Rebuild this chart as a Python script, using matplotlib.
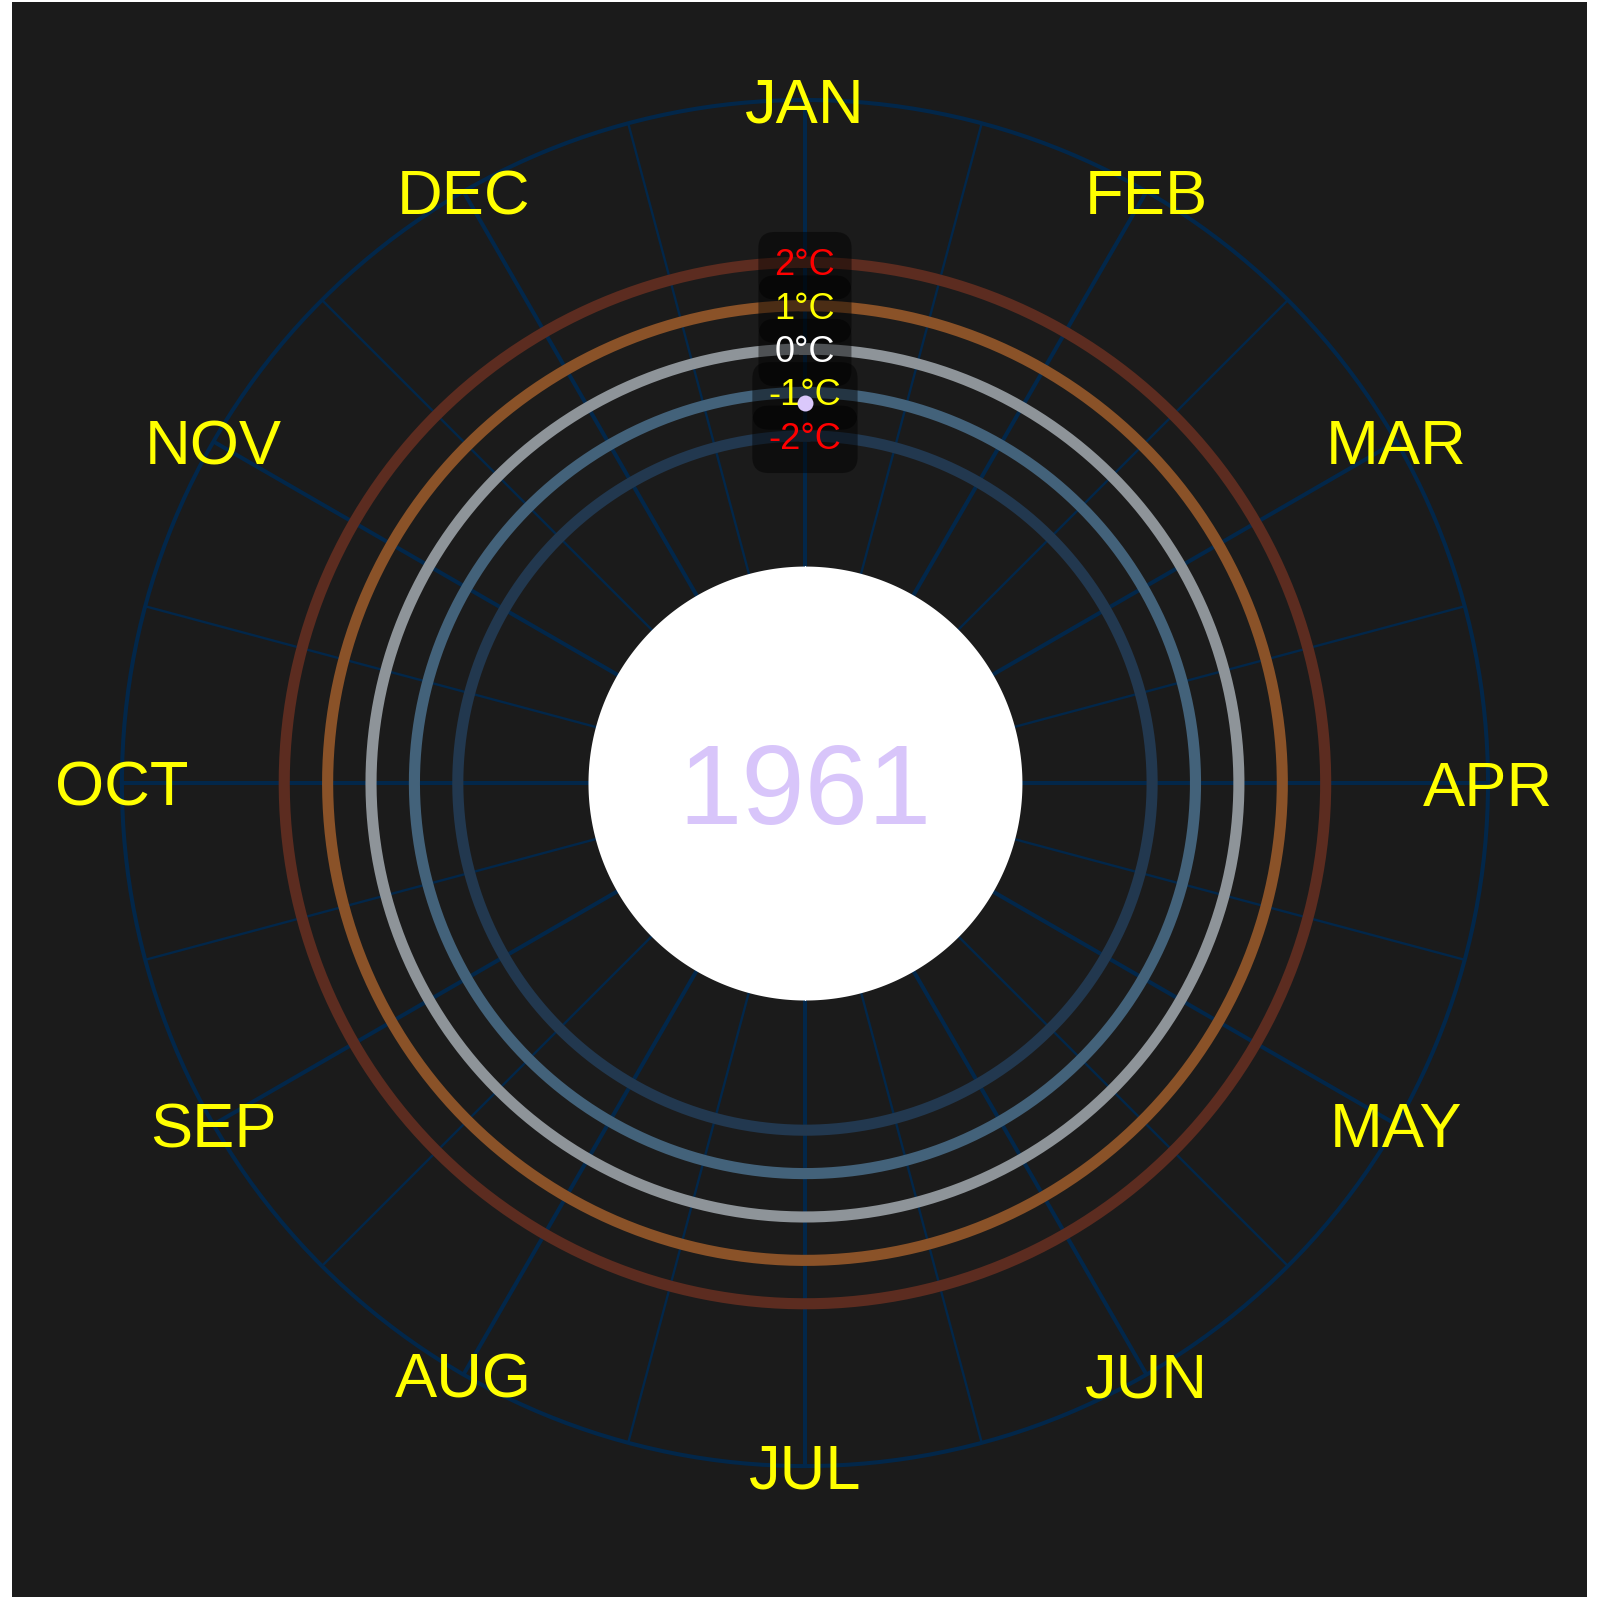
import numpy as np
import matplotlib.pyplot as plt
from matplotlib.patches import Rectangle
from matplotlib.transforms import offset_copy

plt.rcParams['font.family'] = ['Liberation Sans', 'DejaVu Sans']

# Data
months = ["JAN", "FEB", "MAR", "APR", "MAY", "JUN",
          "JUL", "AUG", "SEP", "OCT", "NOV", "DEC"]
year = 1961
anomaly = [-1.25]  # only January drawn so far

ring_levels = [-2, -1, 0, 1, 2]
ring_labels = ["-2°C", "-1°C", "0°C", "1°C", "2°C"]
ring_colors = ["#22384f", "#43627a", "#8e9499", "#8a5228", "#5c2c20"]
label_colors = ["red", "yellow", "white", "yellow", "red"]

r_min, r_hole, r_max = -10, -5, 5.74
grid_col = "#02274a"
bg = "#1b1b1b"

fig = plt.figure(figsize=(16, 16), dpi=100, facecolor="white")
fig.add_artist(Rectangle((12 / 1600, 3 / 1600), 1575 / 1600, 1595 / 1600,
                         transform=fig.transFigure, facecolor=bg,
                         edgecolor="none", zorder=0))

ax = fig.add_axes([0.0762, 0.0837, 0.8538, 0.8538], projection="polar")
ax.set_facecolor("none")
ax.set_theta_zero_location("N")
ax.set_theta_direction(-1)
ax.set_ylim(r_min, r_max)

theta = np.arange(len(months)) * 2 * np.pi / len(months)
ax.set_xticks(theta)
ax.set_xticks(theta + np.pi / 12, minor=True)
ax.set_xticklabels([])
ax.set_yticks([])
ax.tick_params(which="both", length=0)
ax.xaxis.grid(True, which="major", color=grid_col, lw=2.9)
ax.xaxis.grid(True, which="minor", color=grid_col, lw=1.7)
ax.spines["polar"].set_color(grid_col)
ax.spines["polar"].set_linewidth(2.9)


def cap_shift(fs):
    # put the middle of the capitals on the anchor point
    return offset_copy(ax.transData, fig=fig, x=0, y=-0.358 * fs, units="points")


# temperature rings
th = np.linspace(0, 2 * np.pi, 500)
for lvl, c in zip(ring_levels, ring_colors):
    ax.plot(th, np.full_like(th, lvl), color=c, lw=8, zorder=2)

# white hole in the middle
ax.fill_between(th, r_min, r_hole, color="white", zorder=3, lw=0)

# month labels
for t, m in zip(theta, months):
    ax.text(t, r_max, m, color="yellow", fontsize=45.5, ha="center",
            va="baseline", transform=cap_shift(45.5), zorder=4, clip_on=False)

# ring labels: boxes first, then the text on top of all boxes
for lvl, lab, c in zip(ring_levels, ring_labels, label_colors):
    ax.text(0, lvl, lab, color="none", fontsize=26, ha="center", va="baseline",
            transform=cap_shift(26), zorder=4,
            bbox=dict(boxstyle="round,pad=0.45", fc="black", ec="none", alpha=0.45))
    ax.text(0, lvl, lab, color=c, fontsize=26, ha="center", va="baseline",
            transform=cap_shift(26), zorder=4.5)

# data point
ax.scatter(theta[:len(anomaly)], anomaly, s=132, color="#dac8fb", zorder=5, lw=0)

ax.text(0, r_min, str(year), color="#d8c5fa", fontsize=82, ha="center",
        va="baseline", transform=cap_shift(82), zorder=4)

fig.savefig("out.png", dpi=100, facecolor="white")
